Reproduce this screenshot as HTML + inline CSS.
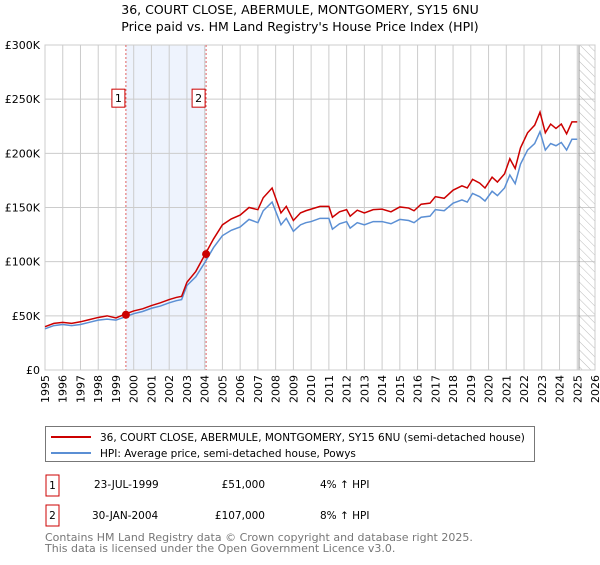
<!DOCTYPE html>
<html><head><meta charset="utf-8"><style>
body{margin:0;background:#fff;font-family:"Liberation Sans","DejaVu Sans",sans-serif;}
svg text{font-family:"DejaVu Sans","Liberation Sans",sans-serif;}
</style></head><body>
<svg width="600" height="560" xmlns="http://www.w3.org/2000/svg">
<defs><pattern id="hatch" width="6" height="6" patternUnits="userSpaceOnUse" patternTransform="rotate(-45)"><line x1="0" y1="0" x2="0" y2="6" stroke="#bbb" stroke-width="1"/></pattern></defs>
<text x="300" y="14" text-anchor="middle" font-size="12.5" fill="#000">36, COURT CLOSE, ABERMULE, MONTGOMERY, SY15 6NU</text>
<text x="300" y="31" text-anchor="middle" font-size="12.5" fill="#000">Price paid vs. HM Land Registry's House Price Index (HPI)</text>
<g id="plot"></g>
<g>
<rect x="45.5" y="426.5" width="489" height="35" fill="#fff" stroke="#777"/>
<line x1="51" y1="437" x2="91" y2="437" stroke="#cc0000" stroke-width="2"/>
<text x="100" y="441" font-size="10.5">36, COURT CLOSE, ABERMULE, MONTGOMERY, SY15 6NU (semi-detached house)</text>
<line x1="51" y1="453" x2="91" y2="453" stroke="#5b8fd4" stroke-width="2"/>
<text x="100" y="457" font-size="10.5">HPI: Average price, semi-detached house, Powys</text>
</g>
<g font-size="10.5">
<rect x="46" y="475" width="13" height="21" fill="#fff" stroke="#c00"/><text x="52.5" y="489" text-anchor="middle">1</text>
<text x="94" y="488">23-JUL-1999</text><text x="265" y="488" text-anchor="end">£51,000</text><text x="320" y="488">4% ↑ HPI</text>
<rect x="46" y="505" width="13" height="21" fill="#fff" stroke="#c00"/><text x="52.5" y="519" text-anchor="middle">2</text>
<text x="92" y="519">30-JAN-2004</text><text x="265" y="519" text-anchor="end">£107,000</text><text x="320" y="519">8% ↑ HPI</text>
</g>
<text x="45" y="541" font-size="11" fill="#777">Contains HM Land Registry data © Crown copyright and database right 2025.</text>
<text x="45" y="552" font-size="11" fill="#777">This data is licensed under the Open Government Licence v3.0.</text>
</svg>
<script>
const years=[1995,1996,1997,1998,1999,2000,2001,2002,2003,2004,2005,2006,2007,2008,2009,2010,2011,2012,2013,2014,2015,2016,2017,2018,2019,2020,2021,2022,2023,2024,2025,2026];
const yTicks=[0,50000,100000,150000,200000,250000,300000];
const yTickLabels=["£0","£50K","£100K","£150K","£200K","£250K","£300K"];
const hpiDates=[1995,1995.5,1996,1996.5,1997,1997.5,1998,1998.5,1999,1999.5,2000,2000.5,2001,2001.5,2002,2002.4,2002.7,2003,2003.5,2004,2004.5,2005,2005.5,2006,2006.5,2007,2007.3,2007.8,2008.3,2008.6,2009,2009.4,2009.7,2010,2010.5,2011,2011.2,2011.6,2012,2012.2,2012.6,2013,2013.5,2014,2014.5,2015,2015.5,2015.8,2016.2,2016.7,2017,2017.5,2018,2018.5,2018.8,2019.1,2019.5,2019.8,2020.2,2020.5,2020.9,2021.2,2021.5,2021.8,2022.2,2022.6,2022.9,2023.2,2023.5,2023.8,2024.1,2024.4,2024.7,2025];
const hpiValues=[38000,41000,42000,41000,42000,44000,46000,47000,46000,49000,52000,54000,57000,59000,62000,64000,65000,78000,86000,99000,113000,124000,129000,132000,139000,136000,147000,155000,134000,140000,128000,134000,136000,137000,140000,140000,130000,135000,137000,131000,136000,134000,137000,137000,135000,139000,138000,136000,141000,142000,148000,147000,154000,157000,155000,163000,160000,156000,165000,161000,168000,180000,172000,190000,203000,209000,220000,203000,209000,207000,210000,203000,213000,213000];
const ppiValues=[40000,43000,44000,43000,44500,46500,48500,50000,48000,51500,54500,56500,59500,62000,65000,67000,68000,81000,91000,106000,121000,134000,139500,143000,150000,148000,159000,168000,145000,151000,138000,145000,147000,148500,151000,151000,141000,146000,148000,142000,147500,145000,148000,148500,146000,150500,149500,147000,153000,154000,160000,158500,166000,170000,168000,176000,172500,168000,178000,173500,181000,195000,186000,205000,219000,226000,238000,219000,227000,223000,227000,218000,229000,229000];
const sales=[[1999.56,51000,"1"],[2004.08,107000,"2"]];
const L=45,R=595,T=45,B=370;
const x=d=>L+(d-1995)*(R-L)/31, y=v=>B-v*(B-T)/300000;
const NS="http://www.w3.org/2000/svg";
const g=document.getElementById('plot');
function el(t,a,p){const e=document.createElementNS(NS,t);for(const k in a)e.setAttribute(k,a[k]);(p||g).appendChild(e);return e;}
let s=el('rect',{x:x(sales[0][0]),y:T,width:x(sales[1][0])-x(sales[0][0]),height:B-T,fill:'#eef3fd'});


years.forEach(yr=>{const l=el('line',{x1:x(yr),x2:x(yr),y1:T,y2:B,stroke:'#ccc'});


const t=el('text',{x:0,y:0,'font-size':11,'text-anchor':'end',transform:`translate(${x(yr)+4},${B+5}) rotate(-90)`});t.textContent=yr;

});
yTicks.forEach((v,i)=>{const l=el('line',{x1:L,x2:R,y1:y(v),y2:y(v),stroke:'#ccc'});


const t=el('text',{x:L-5,y:y(v)+4,'font-size':11,'text-anchor':'end'});t.textContent=yTickLabels[i];

});
const h=el('rect',{x:x(2025.1),y:T,width:R-x(2025.1),height:B-T,fill:'url(#hatch)',stroke:'#999'});


el('rect',{x:L,y:T,width:R-L,height:B-T,fill:'none',stroke:'#ccc'});
sales.forEach(sl=>{const l=el('line',{x1:x(sl[0]),x2:x(sl[0]),y1:T,y2:B,stroke:'#e06060','stroke-dasharray':'2,2'});

});
const hp=el('polyline',{points:hpiDates.map((d,i)=>x(d)+','+y(hpiValues[i])).join(' '),fill:'none',stroke:'#5b8fd4','stroke-width':1.5});


const pp=el('polyline',{points:hpiDates.map((d,i)=>x(d)+','+y(ppiValues[i])).join(' '),fill:'none',stroke:'#cc0000','stroke-width':1.5});


sales.forEach(sl=>{const c=el('circle',{cx:x(sl[0]),cy:y(sl[1]),r:4,fill:'#cc0000'});


const bx=el('rect',{x:x(sl[0])-14,y:y(250000)-10,width:13,height:18,fill:'#fff',stroke:'#c00'});


const t=el('text',{x:x(sl[0])-7.5,y:y(250000)+3,'font-size':11,'text-anchor':'middle'});t.textContent=sl[2];

});
</script>
</body></html>
